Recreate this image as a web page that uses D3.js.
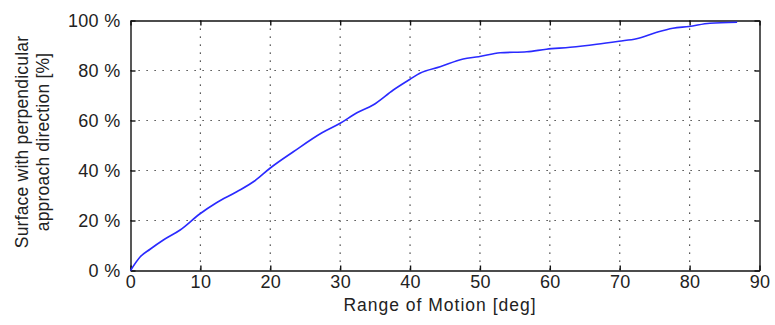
<!DOCTYPE html>
<html>
<head>
<meta charset="utf-8">
<script src="https://cdn.jsdelivr.net/npm/d3@7"></script>
<style>
  body { margin: 0; background: #fff; }
  svg text { font-family: "Liberation Sans", Arial, sans-serif; fill: #222; }
</style>
</head>
<body>
<div id="chart"></div>
<script>
// range of motion [deg]
const rom = [0, 1.4, 2.8, 4.7, 7.1, 9.9, 12.3, 15.2, 17.8, 20, 23.3, 27.4, 30, 32.4, 34.7, 37.6, 40,
  41.4, 44.3, 47.6, 49.8, 52.9, 56.7, 59.5, 62.9, 66.7, 69.9, 72.4, 75.3, 77.6, 79.9, 82.9, 86.8];
// surface with perpendicular approach direction [%]
const surface = [0, 5.5, 8.5, 12.2, 16.2, 22.6, 27.1, 31.5, 35.9, 41.0, 47.5, 55.1, 58.9, 63.1, 66.2, 72.2, 76.5,
  78.9, 81.5, 84.6, 85.5, 87.1, 87.5, 88.5, 89.3, 90.5, 91.7, 92.7, 95.3, 96.9, 97.6, 98.9, 99.3];
const xTicks = [0, 10, 20, 30, 40, 50, 60, 70, 80, 90];
const yTicks = [0, 20, 40, 60, 80, 100];
const xTitle = "Range of Motion [deg]";
const yTitle = ["Surface with perpendicular", "approach direction [%]"];

const W = 775, H = 325;
const margin = { top: 20.5, right: 15.5, bottom: 54.5, left: 130.5 };
const width = W - margin.left - margin.right;
const height = H - margin.top - margin.bottom;

const svg = d3.select("#chart").append("svg")
  .attr("width", W)
  .attr("height", H);

const g = svg.append("g").attr("transform", `translate(${margin.left},${margin.top})`);
const x = d3.scaleLinear().domain([0, 90]).range([0, width]);
const y = d3.scaleLinear().domain([0, 100]).range([height, 0]);

// dotted grid
g.append("g").selectAll("line")
  .data(xTicks.slice(1, -1))
  .enter().append("line")
  .attr("x1", d => x(d)).attr("x2", d => x(d))
  .attr("y1", 0).attr("y2", height)
  .attr("stroke", "#222").attr("stroke-width", 1.2).attr("stroke-dasharray", "1.2,6.8");
g.append("g").selectAll("line")
  .data(yTicks.slice(1, -1))
  .enter().append("line")
  .attr("x1", 0).attr("x2", width)
  .attr("y1", d => y(d)).attr("y2", d => y(d))
  .attr("stroke", "#222").attr("stroke-width", 1.2).attr("stroke-dasharray", "1.2,6.8");

// axes with inward ticks, box style
const fmt = d => d + " %";
g.append("g").attr("transform", `translate(0,${height})`)
  .call(d3.axisBottom(x).tickValues(xTicks).tickSizeInner(-5).tickSizeOuter(0).tickPadding(5));
g.append("g")
  .call(d3.axisTop(x).tickValues(xTicks).tickSizeInner(-5).tickSizeOuter(0).tickFormat(""));
g.append("g")
  .call(d3.axisLeft(y).tickValues(yTicks).tickSizeInner(-5).tickSizeOuter(0).tickPadding(10).tickFormat(fmt));
g.append("g").attr("transform", `translate(${width},0)`)
  .call(d3.axisRight(y).tickValues(yTicks).tickSizeInner(-5).tickSizeOuter(0).tickFormat(""));

g.selectAll(".domain").attr("stroke", "#111").attr("stroke-width", 1.4);
g.selectAll(".tick line").attr("stroke", "#111").attr("stroke-width", 1.4);
g.selectAll(".tick text").style("font-size", "18px").style("letter-spacing", "0.3px").attr("fill", "#222");

// curve
const line = d3.line()
  .curve(d3.curveMonotoneX)
  .x((d, i) => x(rom[i]))
  .y(d => y(d));
g.append("path")
  .datum(surface)
  .attr("fill", "none")
  .attr("stroke", "#2a2aff")
  .attr("stroke-width", 1.6)
  .attr("d", line);

// titles
svg.append("text")
  .attr("x", 440)
  .attr("y", 311)
  .attr("text-anchor", "middle")
  .style("font-size", "17.5px")
  .style("letter-spacing", "1px")
  .text(xTitle);

svg.append("g")
  .attr("transform", "translate(0,142) rotate(-90)")
  .selectAll("text")
  .data(yTitle)
  .enter().append("text")
  .attr("x", 0)
  .attr("y", (d, i) => 28 + i * 21)
  .attr("text-anchor", "middle")
  .style("font-size", "17.5px")
  .style("letter-spacing", "0.2px")
  .text(d => d);
</script>
</body>
</html>
